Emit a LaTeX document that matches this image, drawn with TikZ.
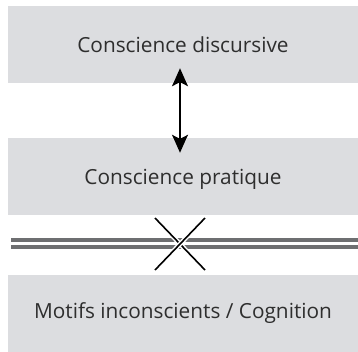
\documentclass[tikz,border=0pt]{standalone}
\usepackage{fontspec}
\setmainfont{Open Sans}
\usetikzlibrary{arrows.meta,calc}
\definecolor{boxgrey}{HTML}{DCDDE0}
\definecolor{txtgrey}{HTML}{2E2E2E}
\definecolor{linegrey}{HTML}{6E6F71}
\tikzset{
  layerbox/.style={fill=boxgrey, draw=none, minimum width=350pt, minimum height=77pt,
    inner sep=0pt, text=txtgrey, font=\fontsize{20.8}{24}\selectfont},
  biarrow/.style={line width=1.6pt, black, {Stealth[length=18pt,width=16pt,inset=4pt]}-{Stealth[length=18pt,width=16pt,inset=4pt]},
    preaction={draw=white, line width=4pt, {Stealth[length=21pt,width=20pt,inset=5pt]}-{Stealth[length=21pt,width=20pt,inset=5pt]}}},
  barline/.style={linegrey, line width=4pt},
  crossline/.style={black, line width=1.6pt, preaction={draw=white, line width=4.5pt}}
}
\begin{document}
\begin{tikzpicture}[x=1pt,y=-1pt]
\useasboundingbox (0,0) rectangle (358,351);
\node[layerbox] (disc) at (183,44.5) {Conscience discursive};
\node[layerbox, text height=20pt, text depth=5pt] (prat) at (183,176.5) {Conscience pratique};
\node[layerbox, minimum height=77pt] (motif) at (183,313.5) {Motifs inconscients / Cognition};
\draw[biarrow, shorten <=-15pt, shorten >=-15pt] (disc.south -| 180,0) -- (prat.north -| 180,0);
\coordinate (la) at (11,240);
\coordinate (ra) at (358,240);
\coordinate (lb) at (11,247);
\coordinate (rb) at (358,247);
\draw[barline] (la) -- (ra);
\draw[barline] (lb) -- (rb);
\coordinate (cross) at (180,244);
\draw[crossline] ($(cross)+(-25,-26)$) -- ($(cross)+(25,26)$);
\draw[crossline] ($(cross)+(25,-26)$) -- ($(cross)+(-25,26)$);
\end{tikzpicture}
\end{document}
